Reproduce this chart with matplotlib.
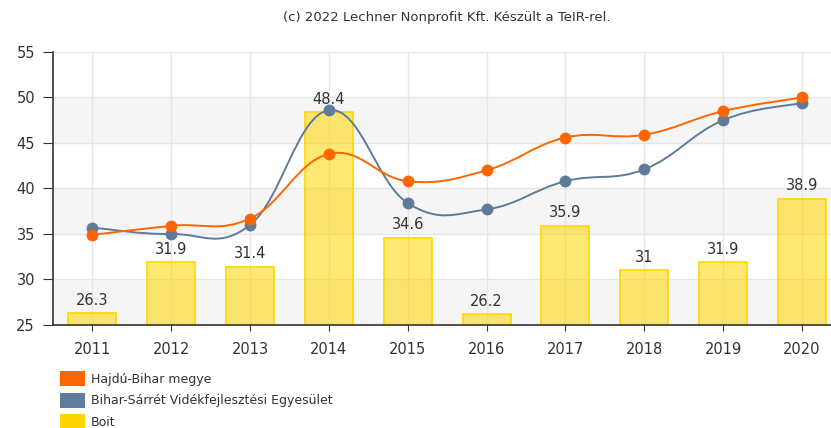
import matplotlib.pyplot as plt
import numpy as np
from matplotlib.path import Path
from matplotlib.patches import PathPatch, Patch

years = ['2011', '2012', '2013', '2014', '2015', '2016', '2017', '2018', '2019', '2020']
boit = [26.3, 31.9, 31.4, 48.4, 34.6, 26.2, 35.9, 31, 31.9, 38.9]
megye = [34.9, 35.9, 36.7, 43.8, 40.8, 42.0, 45.6, 45.9, 48.5, 50.0]
egyesulet = [35.7, 35.0, 36.0, 48.6, 38.4, 37.7, 40.8, 42.1, 47.5, 49.4]

labels = ['Hajdú-Bihar megye', 'Bihar-Sárrét Vidékfejlesztési Egyesület', 'Boit']
orange = '#ff6600'
blue = '#5f7a9b'
gold = '#ffd700'
txt = '#333333'


def smooth_path(xs, ys, k=0.2):
    # bezier segments through the points (catmull-rom style tangents)
    pts = np.column_stack([xs, ys]).astype(float)
    n = len(pts)
    verts = [pts[0]]
    codes = [Path.MOVETO]
    for i in range(n - 1):
        p0 = pts[i - 1] if i > 0 else pts[i]
        p1 = pts[i]
        p2 = pts[i + 1]
        p3 = pts[i + 2] if i + 2 < n else pts[i + 1]
        c1 = p1 + (p2 - p0) * k
        c2 = p2 - (p3 - p1) * k
        verts += [c1, c2, p2]
        codes += [Path.CURVE4] * 3
    return Path(verts, codes)


fig = plt.figure(figsize=(8.31, 4.28), dpi=100)
ax = fig.add_axes([0.0638, 0.2407, 0.9362, 0.6378])

x = np.arange(len(years))

for lo in (25, 35, 45):
    ax.axhspan(lo, lo + 5, color='#f5f5f5', zorder=0, lw=0)

ax.bar(x, boit, width=0.61, color=gold, alpha=0.55, zorder=2, lw=0)
ax.bar(x, boit, width=0.61, facecolor='none', edgecolor=gold, lw=1.2, zorder=2)

for xi, v in zip(x, boit):
    ax.annotate(f'{v:g}', (xi, v), xytext=(0, 4), textcoords='offset points',
                ha='center', va='bottom', fontsize=10.5, color=txt, zorder=5)

for ys, c in ((egyesulet, blue), (megye, orange)):
    ax.add_patch(PathPatch(smooth_path(x, ys), facecolor='none', edgecolor=c, lw=1.4, zorder=3))
    ax.plot(x, ys, 'o', color=c, ms=7.5, zorder=4)

ax.set_xlim(-0.5, 9.37)
ax.set_ylim(25, 55)
ax.set_yticks(range(25, 56, 5))
ax.set_xticks(x)
ax.set_xticklabels(years)
ax.grid(True, color='#e6e6e6', lw=1, zorder=1)
ax.set_axisbelow(True)

for s in ('top', 'right'):
    ax.spines[s].set_visible(False)
for s in ('left', 'bottom'):
    ax.spines[s].set_color(txt)
    ax.spines[s].set_linewidth(1.2)
ax.tick_params(axis='y', length=7, color=txt, labelcolor=txt, labelsize=10.5, pad=6)
ax.tick_params(axis='x', length=4.5, color=txt, labelcolor=txt, labelsize=10.5, pad=8)

fig.text(0.538, 0.96, '(c) 2022 Lechner Nonprofit Kft. Készült a TeIR-rel.',
         ha='center', va='center', fontsize=9.5, color=txt)

handles = [Patch(facecolor=orange), Patch(facecolor=blue), Patch(facecolor=gold)]
fig.legend(handles, labels, loc='upper left', bbox_to_anchor=(0.072, 0.133),
           frameon=False, fontsize=9, handlelength=2.0, handleheight=1.5,
           labelspacing=0.5, handletextpad=0.5, borderpad=0, borderaxespad=0,
           labelcolor=txt)

plt.savefig('out.png', dpi=100)
